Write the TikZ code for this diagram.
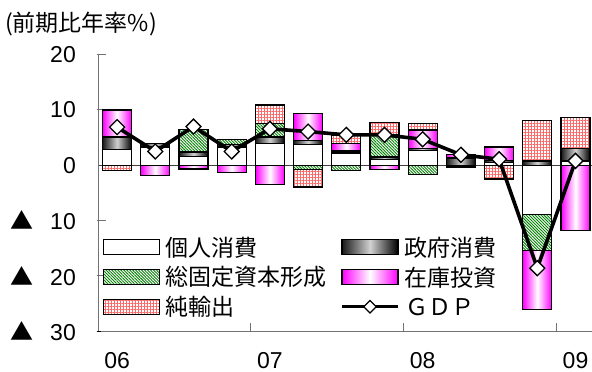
\documentclass[tikz,border=0pt]{standalone}
\usepackage{fontspec}
\setmainfont{Liberation Sans}
\newfontfamily\jp{Noto Sans CJK JP}
\usetikzlibrary{patterns.meta,shapes.geometric}
\newcommand\bseg[4]{\path[#4] ({#1-0.88},#2) rectangle ({#1-0.12},#3);}
\begin{document}
\begin{tikzpicture}[x=1pt,y=1pt,
  pcons/.style={draw=black,line width=1.3pt,fill=white},
  gcons/.style={draw=black,line width=1.3pt,left color=black!90,right color=black,middle color=black!18},
  gfcf/.style={fill=white,postaction={pattern={Lines[angle=-45,distance=2.1pt,line width=0.9pt]},pattern color=green!50!black},postaction={draw=black,line width=1.3pt}},
  inv/.style={draw=black,line width=1.3pt,left color=magenta,right color=magenta,middle color=white},
  nex/.style={fill=white,postaction={pattern={Hatch[angle=0,distance=3pt,line width=0.3pt]},pattern color=red!60},postaction={draw=black,line width=1.3pt}},
  gdpmark/.style={diamond,draw=black,fill=white,line width=1.3pt,minimum width=15.5pt,minimum height=15.5pt,inner sep=0pt},
  ticklab/.style={font=\fontsize{23pt}{23pt}\selectfont,inner sep=0pt},
  legtext/.style={font=\jp\fontsize{23pt}{23pt}\selectfont,anchor=west,inner sep=0pt},
  axisline/.style={draw=black!55,line width=1pt},
]
\useasboundingbox (0,0) rectangle (592,372);
\fill[white] (0,0) rectangle (592,372);
% title
\node[legtext] (title) at (5,348) {(前期比年率\%)};
\begin{scope}[shift={(98pt,206.7pt)},x=38.2pt,y=5.53pt]
  % zero line and axes
  \draw[black!75,line width=1.2pt] (0,0) -- (12.95,0);
  \draw[axisline] (0,20.2) -- (0,-30) -- (12.95,-30);
  \foreach \v in {20,10,-10,-20}
    \draw[axisline] ([xshift=-1.5pt]0,\v) -- ([xshift=8pt]0,\v);
  \draw[black,line width=1pt] ([xshift=-1.5pt]0,-30) -- ([xshift=3pt]0,-30);
  \foreach \q in {4,8,12}
    \draw[axisline] (\q,-30) -- ([yshift=8pt]\q,-30);
  % y labels
  \node[ticklab,anchor=east,xshift=-22pt] (y20) at (0,20) {20};
  \node[ticklab,anchor=east,xshift=-22pt] (y10) at (0,10) {10};
  \node[ticklab,anchor=east,xshift=-22pt] (y0) at (0,0) {0};
  \node[ticklab,anchor=east,xshift=-22pt] (ym10) at (0,-10) {{\jp ▲}\hspace{17pt}10};
  \node[ticklab,anchor=east,xshift=-22pt] (ym20) at (0,-20) {{\jp ▲}\hspace{17pt}20};
  \node[ticklab,anchor=east,xshift=-22pt] (ym30) at (0,-30) {{\jp ▲}\hspace{17pt}30};
  % x labels
  \node[ticklab,yshift=-29pt] (x06) at (0.5,-30) {06};
  \node[ticklab,yshift=-29pt] (x07) at (4.5,-30) {07};
  \node[ticklab,yshift=-29pt] (x08) at (8.5,-30) {08};
  \node[ticklab,yshift=-29pt] (x09) at (12.5,-30) {09};
  % bars
  \bseg{1}{0}{2.8}{pcons}\bseg{1}{2.8}{5.1}{gcons}\bseg{1}{5.1}{10.0}{inv}\bseg{1}{-1.0}{0}{nex}
  \bseg{2}{0}{3.3}{pcons}\bseg{2}{3.3}{4.0}{gcons}\bseg{2}{-1.8}{0}{inv}
  \bseg{3}{0}{1.6}{pcons}\bseg{3}{1.6}{2.4}{gcons}\bseg{3}{2.4}{6.5}{gfcf}\bseg{3}{-0.65}{0}{inv}
  \bseg{4}{0}{3.3}{pcons}\bseg{4}{3.3}{3.7}{gcons}\bseg{4}{3.7}{4.7}{gfcf}\bseg{4}{-1.3}{0}{inv}
  \bseg{5}{0}{4.0}{pcons}\bseg{5}{4.0}{5.1}{gcons}\bseg{5}{5.1}{7.6}{gfcf}\bseg{5}{7.6}{10.9}{nex}\bseg{5}{-3.5}{0}{inv}
  \bseg{6}{0}{3.7}{pcons}\bseg{6}{3.7}{4.5}{gcons}\bseg{6}{4.5}{9.4}{inv}\bseg{6}{-0.8}{0}{gfcf}\bseg{6}{-3.9}{-0.8}{nex}
  \bseg{7}{0}{2.2}{pcons}\bseg{7}{2.2}{2.6}{gcons}\bseg{7}{2.6}{4.0}{inv}\bseg{7}{4.0}{5.4}{nex}\bseg{7}{-0.95}{0}{gfcf}
  \bseg{8}{0}{1.0}{pcons}\bseg{8}{1.0}{1.5}{gcons}\bseg{8}{1.5}{5.5}{gfcf}\bseg{8}{5.5}{7.7}{nex}\bseg{8}{-0.8}{0}{inv}
  \bseg{9}{0}{2.7}{pcons}\bseg{9}{2.7}{3.1}{gcons}\bseg{9}{3.1}{6.4}{inv}\bseg{9}{6.4}{7.6}{nex}\bseg{9}{-1.7}{0}{gfcf}
  \bseg{10}{-0.3}{0}{pcons}\bseg{10}{0}{1.3}{gcons}\bseg{10}{1.3}{1.9}{inv}
  \bseg{11}{0}{0.5}{pcons}\bseg{11}{0.5}{0.9}{gcons}\bseg{11}{0.9}{3.3}{inv}\bseg{11}{-2.5}{0}{nex}
  \bseg{12}{0}{0.8}{gcons}\bseg{12}{0.8}{8.1}{nex}\bseg{12}{-8.9}{0}{pcons}\bseg{12}{-15.4}{-8.9}{gfcf}\bseg{12}{-26.1}{-15.4}{inv}
  \bseg{13}{0}{0.8}{pcons}\bseg{13}{0.8}{3.1}{gcons}\bseg{13}{3.1}{8.7}{nex}\bseg{13}{-11.8}{0}{inv}
  % GDP
  \coordinate (p1) at (0.5,6.9);
  \coordinate (p2) at (1.5,2.5);
  \coordinate (p3) at (2.5,7.0);
  \coordinate (p4) at (3.5,2.5);
  \coordinate (p5) at (4.5,6.6);
  \coordinate (p6) at (5.5,6.1);
  \coordinate (p7) at (6.5,5.5);
  \coordinate (p8) at (7.5,5.5);
  \coordinate (p9) at (8.5,4.7);
  \coordinate (p10) at (9.5,1.9);
  \coordinate (p11) at (10.5,1.1);
  \coordinate (p12) at (11.5,-18.6);
  \coordinate (p13) at (12.5,0.8);
  \draw[line width=3.6pt,line join=round] (p1) -- (p2) -- (p3) -- (p4) -- (p5) -- (p6) -- (p7) -- (p8) -- (p9) -- (p10) -- (p11) -- (p12) -- (p13);
  \foreach \i in {1,...,13} \node[gdpmark] (g\i) at (p\i) {};
\end{scope}
% legend
\path[pcons] (103.5,117.2) rectangle (159.5,132.2);
\node[legtext] (l1) at (165,124.7) {個人消費};
\path[gfcf] (103.5,87.2) rectangle (159.5,102.2);
\node[legtext] (l2) at (165,94.7) {総固定資本形成};
\path[nex] (103.5,57.8) rectangle (159.5,72.8);
\node[legtext] (l3) at (165,65.3) {純輸出};
\path[gcons] (342,117.2) rectangle (398,132.2);
\node[legtext] (l4) at (404,124.7) {政府消費};
\path[inv] (342,87.2) rectangle (398,102.2);
\node[legtext] (l5) at (404,94.7) {在庫投資};
\coordinate (la) at (342,65.3);
\coordinate (lb) at (398,65.3);
\draw[line width=3pt] (la) -- (lb);
\node[gdpmark,minimum width=13pt,minimum height=13pt] (lg) at (370,65.3) {};
\node[legtext] (l6) at (405,65.3) {ＧＤＰ};
\end{tikzpicture}
\end{document}
